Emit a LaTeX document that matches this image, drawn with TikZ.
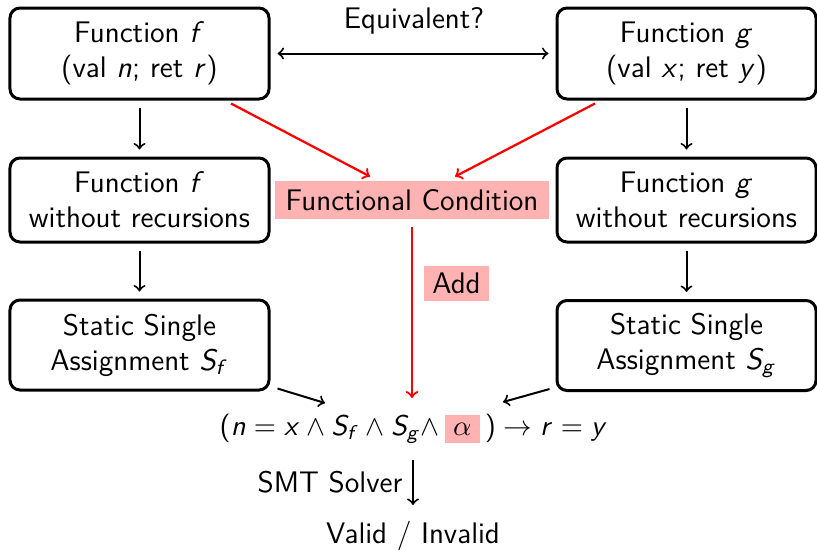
\RequirePackage{fix-cm}
\documentclass[tikz,border=0pt]{standalone}
\usetikzlibrary{calc}
% sans-serif math letters and operators
\DeclareSymbolFont{sfletters}{OT1}{cmss}{m}{sl}
\DeclareSymbolFont{operators}{OT1}{cmss}{m}{n}
\DeclareMathSymbol{n}{\mathalpha}{sfletters}{`n}
\DeclareMathSymbol{x}{\mathalpha}{sfletters}{`x}
\DeclareMathSymbol{f}{\mathalpha}{sfletters}{`f}
\DeclareMathSymbol{g}{\mathalpha}{sfletters}{`g}
\DeclareMathSymbol{r}{\mathalpha}{sfletters}{`r}
\DeclareMathSymbol{y}{\mathalpha}{sfletters}{`y}
\DeclareMathSymbol{S}{\mathalpha}{sfletters}{`S}
\newcommand\hlalpha{{\setlength\fboxsep{0pt}\colorbox{red!30}{\rule[-3.2pt]{0pt}{11.2pt}\hspace{3.4pt}$\alpha$\hspace{3.4pt}}}}
\begin{document}
\begin{tikzpicture}[x=0.4pt,y=-0.4pt,
  every node/.style={font=\sffamily\fontsize{11.9}{14}\selectfont, inner sep=0pt},
  stage/.style={draw, line width=1.2pt, rounded corners=4pt, align=center,
    minimum width=103.6pt},
  hilite/.style={fill=red!30},
  flow/.style={->, line width=0.8pt, shorten <=2.8pt, shorten >=2.8pt},
  redflow/.style={->, red, line width=0.9pt}]
\useasboundingbox (0,0) rectangle (817,549);

% the two functions and their transformations
\node[stage, minimum height=36.4pt] (f1) at (139.5,53.5) {Function $f$\\(val $n$; ret $r$)};
\node[stage, minimum height=36.4pt] (g1) at (686.5,53.5) {Function $g$\\(val $x$; ret $y$)};
\node[stage, minimum height=33.6pt] (f2) at (139.5,200) {Function $f$\\without recursions};
\node[stage, minimum height=33.6pt] (g2) at (686.5,200) {Function $g$\\without recursions};
\node[stage, minimum height=36pt] (f3) at (139.5,345) {Static Single\\Assignment $S_f$};
\node[stage, minimum height=36pt] (g3) at (686.5,345.5) {Static Single\\Assignment $S_g$};

\node[anchor=base] (eq) at (414,28) {Equivalent?};

% functional condition and its label
\node[hilite, minimum width=109.6pt, minimum height=15.2pt] (fc) at (412,200) {Functional Condition};
\node[hilite, minimum width=26pt, minimum height=14pt] (add) at (456.5,283.5) {Add};

% verification condition
\node[anchor=base, font=\sffamily\fontsize{11.4}{14}\selectfont] (vc) at (413.5,435)
  {$(n = x \wedge S_f \wedge S_g {\wedge}\,\hlalpha\,) \to r = y$};
\node[anchor=base] (res) at (413,543) {Valid / Invalid};

\coordinate (addend) at (412,398);
\coordinate (fin) at (325,403);
\coordinate (gin) at (503,402);
\coordinate (smttop) at (413,460);
\coordinate (smtbot) at (413,505);
\node[anchor=base east] (smt) at (403,492) {SMT Solver};

% connectors
\draw[flow, <->] (f1) -- (g1);
\draw[flow] (f1) -- (f2);
\draw[flow] (f2) -- (f3);
\draw[flow] (g1) -- (g2);
\draw[flow] (g2) -- (g3);
\draw[redflow] ([xshift=36.6pt,yshift=-1.2pt]f1.south) -- ([xshift=-16.8pt,yshift=1.6pt]fc.north);
\draw[redflow] ([xshift=-36.6pt,yshift=-1.2pt]g1.south) -- ([xshift=17.2pt,yshift=1.6pt]fc.north);
\draw[redflow, shorten <=2.8pt] (fc.south) -- (addend);
\draw[->, line width=0.8pt] ([xshift=2.8pt,yshift=1.2pt]f3.south east) -- (fin);
\draw[->, line width=0.8pt] ([xshift=-2.4pt,yshift=1.2pt]g3.south west) -- (gin);
\draw[->, line width=0.8pt] (smttop) -- (smtbot);
\end{tikzpicture}
\end{document}
